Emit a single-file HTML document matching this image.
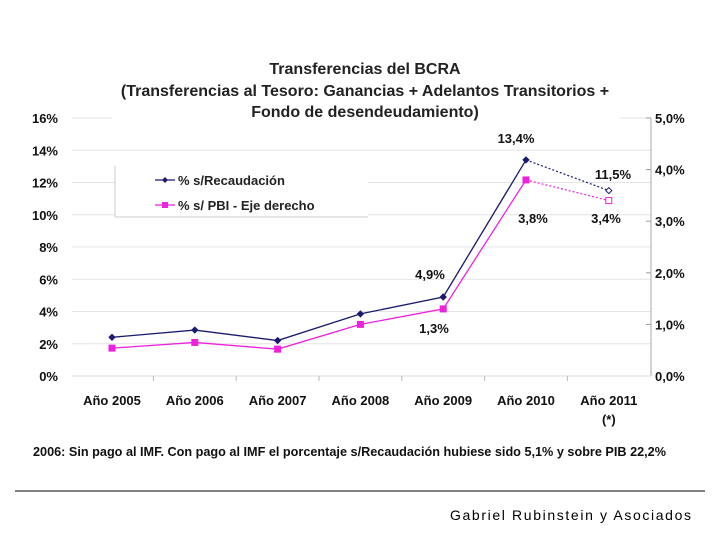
<!DOCTYPE html>
<html><head><meta charset="utf-8"><style>
body{margin:0;width:720px;height:540px;background:#fff;overflow:hidden}
svg text{font-family:"Liberation Sans","DejaVu Sans",sans-serif}
</style></head><body>
<svg width="720" height="540" xmlns="http://www.w3.org/2000/svg">
<g id="g"></g>
</svg>
<script>
const categories=["Año 2005","Año 2006","Año 2007","Año 2008","Año 2009","Año 2010","Año 2011"];
const recaud=[2.4,2.85,2.2,3.85,4.9,13.4,11.5];
const pbi=[0.54,0.65,0.52,1.0,1.3,3.8,3.4];
const leftTicks=[0,2,4,6,8,10,12,14,16];
const rightTicks=[0,1,2,3,4,5];
const NS="http://www.w3.org/2000/svg";
const g=document.getElementById('g');
function el(t,a,txt){const e=document.createElementNS(NS,t);for(const k in a)e.setAttribute(k,a[k]);if(txt!==undefined)e.textContent=txt;g.appendChild(e);return e;}
const X0=72,X1=651,Y0=376,Y1=118;
const xp=i=>112+82.8*i;
const yl=v=>Y0-(v/16)*(Y0-Y1);
const yr=v=>Y0-(v/5)*(Y0-Y1);
// grid + left ticks
leftTicks.forEach(v=>{
 const y=yl(v);
 if(v>0){const l=el('line',{x1:X0,x2:X1,y1:y,y2:y,stroke:'#e4e4e4'});}
 const tx=el('text',{x:58,y:y+5,'text-anchor':'end','font-size':'13','font-weight':'bold',fill:'#111'},v+'%');
 
});
// title box
el('rect',{x:112,y:50,width:508,height:74,fill:'#fff'});
let t=el('text',{x:365,y:74,'text-anchor':'middle','font-size':'16','font-weight':'bold',fill:'#222'},'Transferencias del BCRA');

t=el('text',{x:365,y:96,'text-anchor':'middle','font-size':'16','font-weight':'bold',fill:'#222'},'(Transferencias al Tesoro: Ganancias + Adelantos Transitorios +');

t=el('text',{x:365,y:117,'text-anchor':'middle','font-size':'16','font-weight':'bold',fill:'#222'},'Fondo de desendeudamiento)');

rightTicks.forEach(v=>{
 const y=yr(v);
 el('line',{x1:X1,x2:X1-5,y1:y,y2:y,stroke:'#999'});
 const tx=el('text',{x:655,y:y+5,'font-size':'13','font-weight':'bold',fill:'#111'},v.toFixed(1).replace('.',',')+'%');
 
});
el('line',{x1:X1,x2:X1,y1:Y1,y2:Y0,stroke:'#aaa'});
el('line',{x1:X0,x2:X1,y1:Y0,y2:Y0,stroke:'#ddd'});
for(let i=0;i<6;i++){const x=(xp(i)+xp(i+1))/2;el('line',{x1:x,x2:x,y1:Y0,y2:Y0+5,stroke:'#bbb'});}
categories.forEach((c,i)=>{
 const tx=el('text',{x:xp(i),y:405,'text-anchor':'middle','font-size':'13','font-weight':'bold',fill:'#111'},c);
 
});
el('text',{x:xp(6),y:424,'text-anchor':'middle','font-size':'13','font-weight':'bold',fill:'#111'},'(*)');
// series
function series(vals,f,color,name,sq){
 const n=vals.length;
 let d='';for(let i=0;i<n-1;i++)d+=(i?'L':'M')+xp(i)+' '+f(vals[i]);
 const p=el('path',{d:d,fill:'none',stroke:color,'stroke-width':1.3});
 
 const q=el('line',{x1:xp(n-2),y1:f(vals[n-2]),x2:xp(n-1),y2:f(vals[n-1]),stroke:color,'stroke-width':1.2,'stroke-dasharray':'2,2'});
 
 vals.forEach((v,i)=>{
  const x=xp(i),y=f(v),last=i==n-1;
  const m=sq?el('rect',{x:x-3,y:y-3,width:6,height:6,fill:last?'#fff':color,stroke:color}):
   el('path',{d:`M${x} ${y-3}L${x+3} ${y}L${x} ${y+3}L${x-3} ${y}Z`,fill:last?'#fff':color,stroke:color});
  
 });
}
series(recaud,yl,'#1a1a6e','recaudacion',false);
series(pbi,yr,'#ee22dd','pbi',true);
const labs=[["4,9%",430,279],["13,4%",516,143],["11,5%",613,179],["1,3%",434,333],["3,8%",533,223],["3,4%",606,223]];
labs.forEach(a=>{const tx=el('text',{x:a[1],y:a[2],'text-anchor':'middle','font-size':'13','font-weight':'bold',fill:'#111'},a[0]);});
// legend
const lg=el('rect',{x:115,y:166,width:253,height:51,fill:'#fff',stroke:'none'});

el('line',{x1:115,y1:166,x2:115,y2:217,stroke:'#ccc'});el('line',{x1:115,y1:217,x2:368,y2:217,stroke:'#ccc'});
el('line',{x1:155,x2:175,y1:180,y2:180,stroke:'#1a1a6e','stroke-width':1.3});
el('path',{d:'M165 177L168 180L165 183L162 180Z',fill:'#1a1a6e'});
t=el('text',{x:178,y:185,'font-size':'13','font-weight':'bold',fill:'#222'},'% s/Recaudación');
el('line',{x1:155,x2:175,y1:205,y2:205,stroke:'#ee22dd','stroke-width':1.3});
el('rect',{x:162,y:202,width:6,height:6,fill:'#ee22dd'});
t=el('text',{x:178,y:210,'font-size':'13','font-weight':'bold',fill:'#222'},'% s/ PBI - Eje derecho');
// footnote
t=el('text',{x:33,y:456,'font-size':'12.5','font-weight':'bold',fill:'#111',textLength:633,lengthAdjust:'spacingAndGlyphs'},'2006: Sin pago al IMF. Con pago al IMF el porcentaje s/Recaudación hubiese sido 5,1% y sobre PIB 22,2%');

t=el('line',{x1:15,x2:705,y1:491,y2:491,stroke:'#000','stroke-width':1});

t=el('text',{x:691,y:520,'text-anchor':'end','font-size':'14',fill:'#000',textLength:241},'Gabriel Rubinstein y Asociados');

</script>
</body></html>
